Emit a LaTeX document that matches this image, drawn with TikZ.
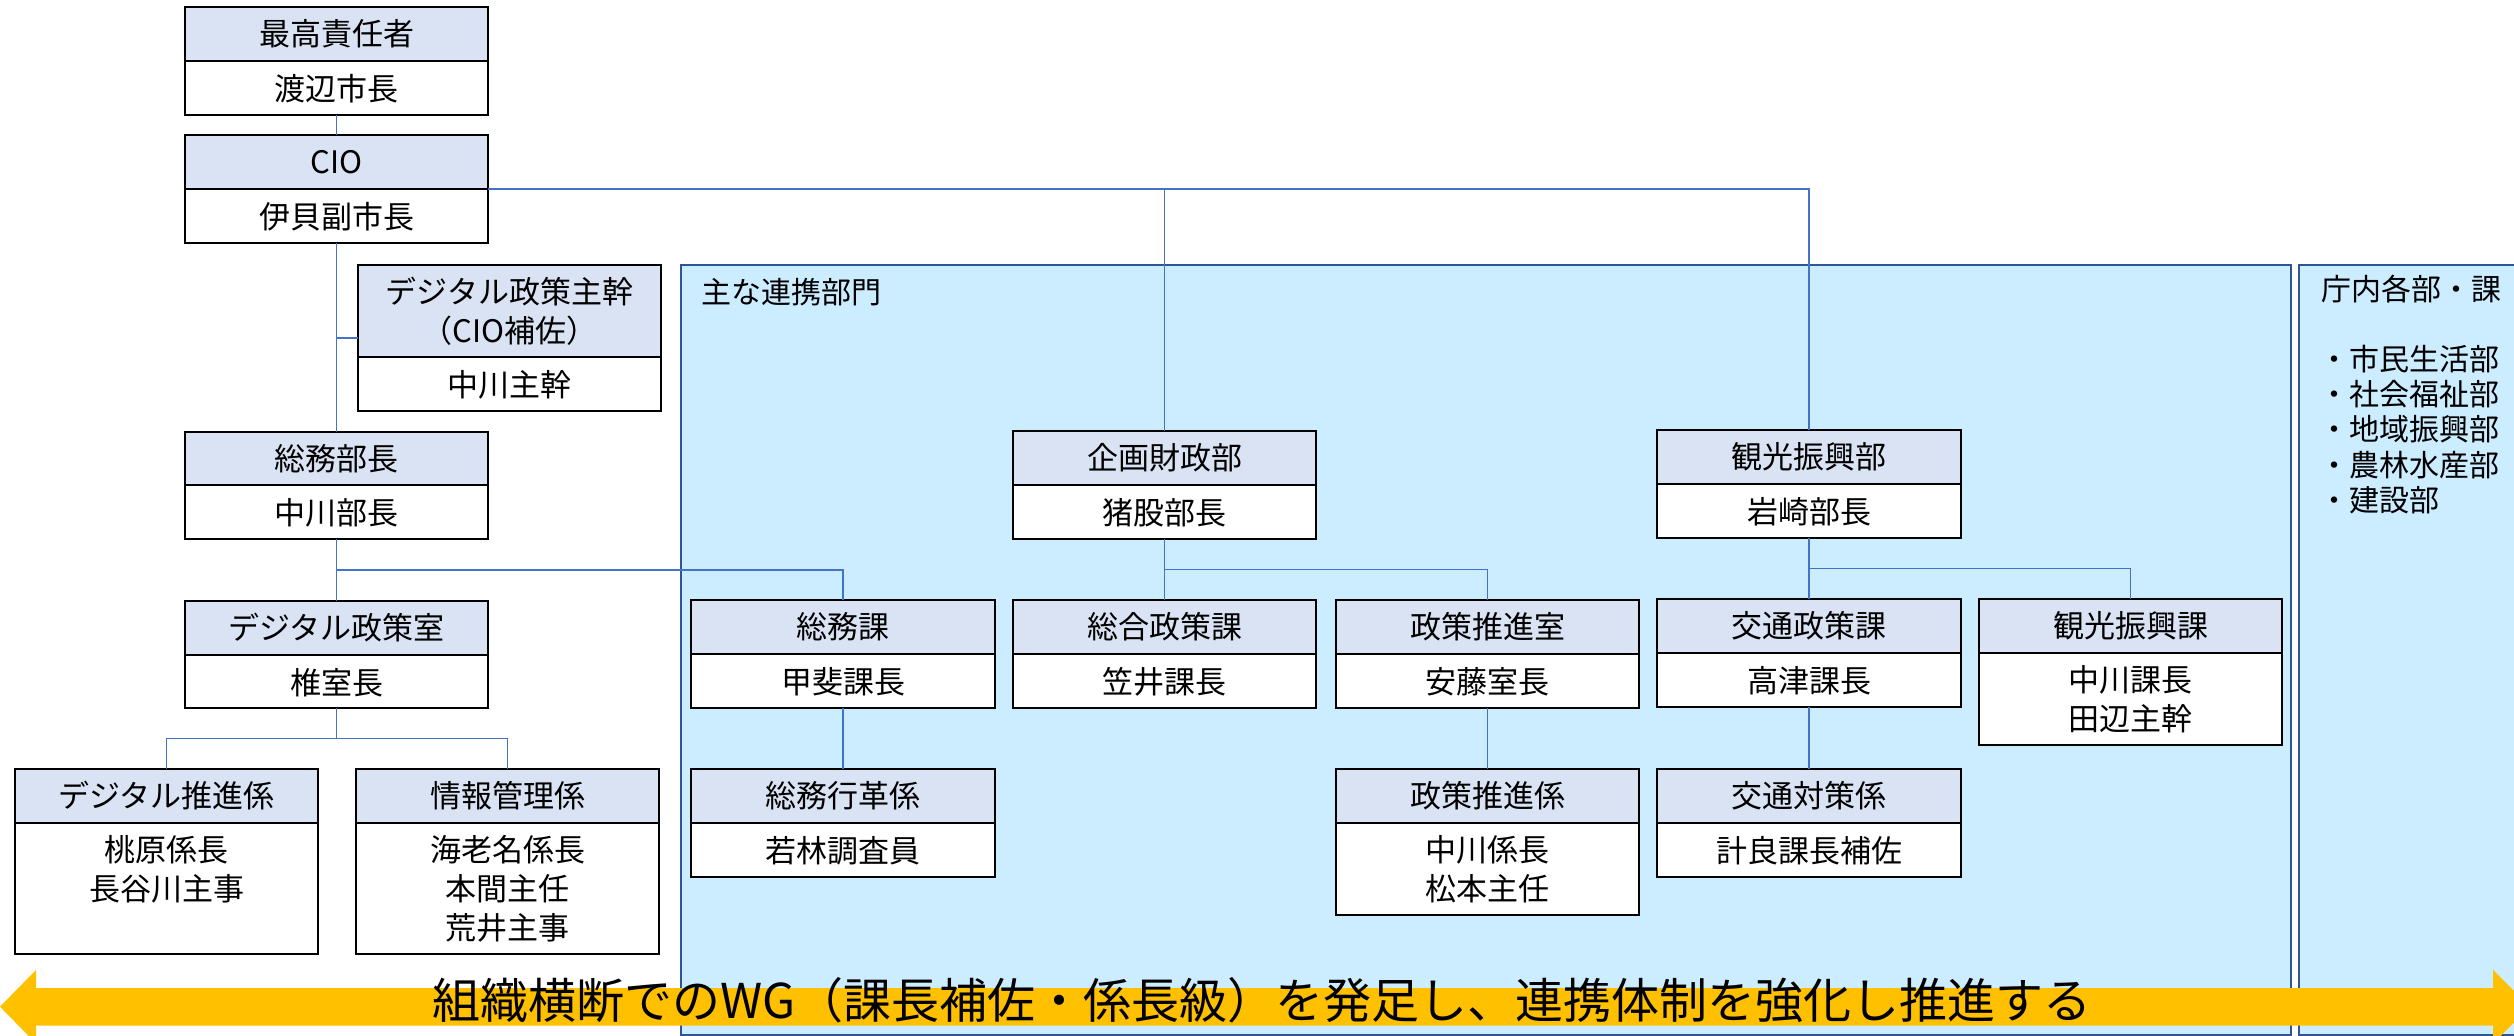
\documentclass[tikz,border=0pt]{standalone}
\usepackage{fontspec}
\setmainfont{Noto Sans CJK JP}
\usetikzlibrary{calc}
\definecolor{hdrfill}{RGB}{218,227,243}
\definecolor{panelfill}{RGB}{204,236,255}
\definecolor{panelline}{RGB}{47,85,151}
\definecolor{linkblue}{RGB}{68,114,196}
\definecolor{arrowyellow}{RGB}{255,192,0}
\newcommand\pxu{0.3pt}
\newcommand\boxfont{\fontsize{9.3pt}{11.7pt}\selectfont}
\newcommand\orgbox[8]{%
  \node[hdrbox, minimum width=#4*\pxu, minimum height=#5*\pxu, anchor=north west] (#1) at (#2,#3) {#7};
  \node[bodybox, minimum width=#4*\pxu, minimum height=#6*\pxu, anchor=north] (#1b) at (#1.south) {};
  \node[bodytext] (#1t) at ([yshift=-11.5*\pxu]#1b.north) {#8};
}
\tikzset{
  hdrbox/.style={draw=black, line width=0.75pt, fill=hdrfill, font=\boxfont, align=center, inner sep=0pt, outer sep=0pt},
  bodybox/.style={draw=black, line width=0.75pt, fill=white, inner sep=0pt, outer sep=0pt},
  bodytext/.style={anchor=north, font=\boxfont, align=center, inner sep=0pt, execute at begin node=\strut},
  link/.style={draw=linkblue, line width=0.45pt},
  panel/.style={draw=panelline, line width=0.6pt, fill=panelfill},
  paneltitle/.style={font=\fontsize{9pt}{10.6pt}\selectfont, inner sep=0pt, anchor=west},
  panellist/.style={font=\fontsize{9pt}{10.6pt}\selectfont, inner sep=0pt, anchor=north west, align=left, execute at begin node=\strut},
  wgtext/.style={font=\fontsize{14.4pt}{17pt}\selectfont, inner sep=0pt, text=black},
}
\begin{document}
\begin{tikzpicture}[x=0.3pt, y=-0.3pt]
\useasboundingbox (0,0) rectangle (2514,1036);
\clip (0,0) rectangle (2514,1036);
\fill[white] (0,0) rectangle (2514,1036);
% panels
\draw[panel] (681,265) rectangle (2291,1035);
\draw[panel] (2299,265) rectangle (2560,1035);
\node[paneltitle] (p1title) at (701,292) {主な連携部門};
\node[paneltitle] (p2title) at (2321,289) {庁内各部・課};
\node[panellist] (p2list) at (2319,344.3) {・市民生活部\\・社会福祉部\\・地域振興部\\・農林水産部\\・建設部};
% boxes
\orgbox{top1}{185}{7}{303}{54}{54}{最高責任者}{渡辺市長}
\orgbox{cio}{185}{135}{303}{54}{54}{CIO}{伊貝副市長}
\orgbox{sub}{358}{265}{303}{92}{54}{デジタル政策主幹\\（CIO補佐）}{中川主幹}
\orgbox{gen}{185}{432}{303}{53}{54}{総務部長}{中川部長}
\orgbox{dps}{185}{601}{303}{54}{53}{デジタル政策室}{椎室長}
\orgbox{dpk}{15}{769}{303}{54}{131}{デジタル推進係}{桃原係長\\長谷川主事}
\orgbox{jhk}{356}{769}{303}{54}{131}{情報管理係}{海老名係長\\本間主任\\荒井主事}
\orgbox{kzb}{1013}{431}{303}{54}{54}{企画財政部}{猪股部長}
\orgbox{smk}{691}{600}{304}{54}{54}{総務課}{甲斐課長}
\orgbox{sgs}{1013}{600}{303}{54}{54}{総合政策課}{笠井課長}
\orgbox{ssr}{1336}{600}{303}{54}{54}{政策推進室}{安藤室長}
\orgbox{smg}{691}{769}{304}{54}{54}{総務行革係}{若林調査員}
\orgbox{ssk}{1336}{769}{303}{54}{92}{政策推進係}{中川係長\\松本主任}
\orgbox{kkb}{1657}{430}{304}{54}{54}{観光振興部}{岩崎部長}
\orgbox{kts}{1657}{599}{304}{54}{54}{交通政策課}{高津課長}
\orgbox{kks}{1979}{599}{303}{54}{92}{観光振興課}{中川課長\\田辺主幹}
\orgbox{ktt}{1657}{769}{304}{54}{54}{交通対策係}{計良課長補佐}
% connectors
\draw[link] (top1b.south) -- (cio.north);
\draw[link] (ciob.south) -- (gen.north);
\coordinate (subw) at ($(sub.north west)!.5!(subb.south west)$);
\draw[link] (subw -| ciob.south) -- (subw);
\draw[link] (cio.south east) -| (kkb.north);
\draw[link] (cio.south east -| kzb.north) -- (kzb.north);
\coordinate (j1) at ($(genb.south)!.5!(dps.north)$);
\draw[link] (genb.south) -- (dps.north);
\draw[link] (j1) -| (smk.north);
\coordinate (j2) at ($(dpsb.south)!.5!(dpsb.south |- dpk.north)$);
\draw[link] (dpsb.south) -- (j2);
\draw[link] (dpk.north) |- (j2) -| (jhk.north);
\draw[link] (smkb.south) -- (smg.north);
\coordinate (j3) at ($(kzbb.south)!.5!(sgs.north)$);
\draw[link] (kzbb.south) -- (sgs.north);
\draw[link] (j3) -| (ssr.north);
\draw[link] (ssrb.south) -- (ssk.north);
\coordinate (j4) at ($(kkbb.south)!.5!(kts.north)$);
\draw[link] (kkbb.south) -- (kts.north);
\draw[link] (j4) -| (kks.north);
\draw[link] (ktsb.south) -- (ktt.north);
% big arrow
\fill[arrowyellow] (0,1006.7) -- (36,970) -- (36,988) -- (2493,988) -- (2493,970) -- (2530,1006.7)
  -- (2493,1043.4) -- (2493,1025.5) -- (36,1025.5) -- (36,1043.4) -- cycle;
\node[wgtext] (wg) at (1262,1000) {組織横断でのWG（課長補佐・係長級）を発足し、連携体制を強化し推進する};
\end{tikzpicture}
\end{document}
